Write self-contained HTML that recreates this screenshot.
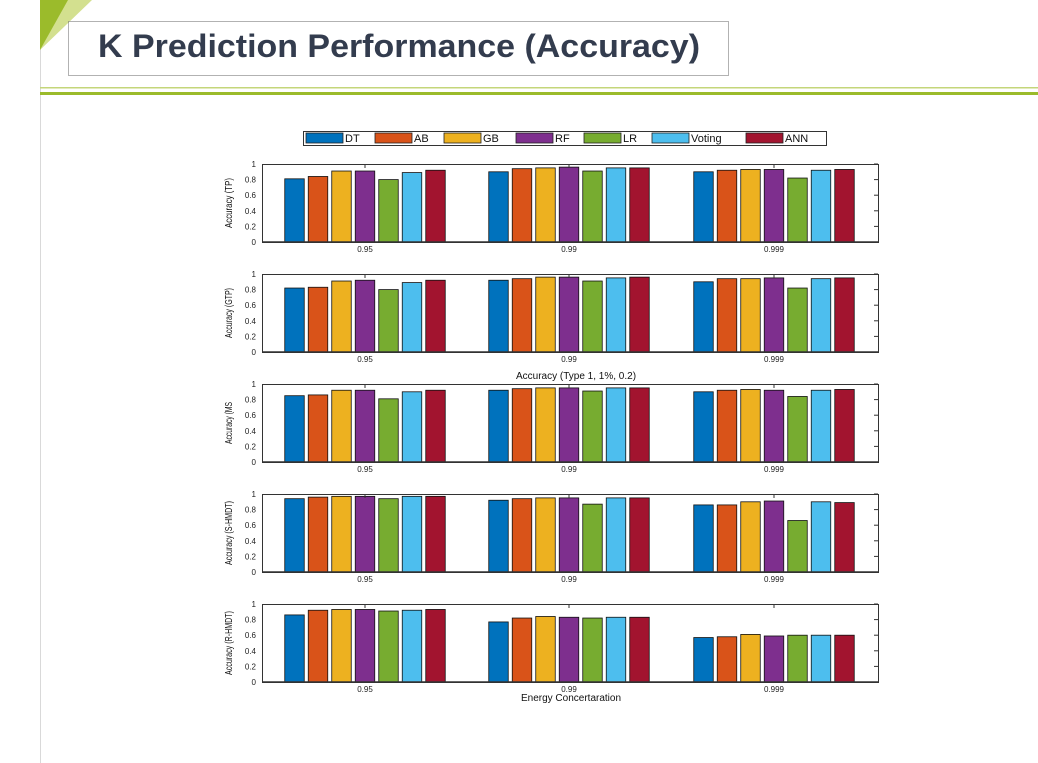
<!DOCTYPE html>
<html><head><meta charset="utf-8"><style>
html,body{margin:0;padding:0;background:#fff;width:1038px;height:763px;overflow:hidden;font-family:"Liberation Sans",sans-serif}
</style></head><body>
<svg id="s" width="1038" height="763" xmlns="http://www.w3.org/2000/svg">
<line x1="40.5" y1="0" x2="40.5" y2="763" stroke="#d9d9d9" stroke-width="1"/>
<polygon points="40,0 92,0 40,50" fill="#d3e08f"/>
<polygon points="40,0 68,0 40,50" fill="#9bbb2b"/>
<rect x="68.5" y="21.5" width="660" height="54" fill="none" stroke="#666" stroke-dasharray="1,1"/>
<text x="98" y="57" font-size="32" font-weight="bold" fill="#333c4e" textLength="602" lengthAdjust="spacingAndGlyphs">K Prediction Performance (Accuracy)</text>
<rect x="40" y="87" width="998" height="1.5" fill="#c4d67a"/>
<rect x="40" y="92" width="998" height="3" fill="#9bbb2b"/>
<g id="chart"></g>
</svg>
<script>
const names=["DT","AB","GB","RF","LR","Voting","ANN"];
const colors=["#0072bd","#d95319","#edb120","#7e2f8e","#77ac30","#4dbeee","#a2142f"];
const categories=["0.95","0.99","0.999"];
const ylabels=["Accuracy (TP)","Accuracy (GTP)","Accuracy (MS","Accuracy (S-HMDT)","Accuracy (R-HMDT)"];
const yticks=[0,0.2,0.4,0.6,0.8,1];
const tp=[[.81,.84,.91,.91,.80,.89,.92],[.90,.94,.95,.96,.91,.95,.95],[.90,.92,.93,.93,.82,.92,.93]];
const gtp=[[.82,.83,.91,.92,.80,.89,.92],[.92,.94,.96,.96,.91,.95,.96],[.90,.94,.94,.95,.82,.94,.95]];
const ms=[[.85,.86,.92,.92,.81,.90,.92],[.92,.94,.95,.95,.91,.95,.95],[.90,.92,.93,.92,.84,.92,.93]];
const shmdt=[[.94,.96,.97,.97,.94,.97,.97],[.92,.94,.95,.95,.87,.95,.95],[.86,.86,.90,.91,.66,.90,.89]];
const rhmdt=[[.86,.92,.93,.93,.91,.92,.93],[.77,.82,.84,.83,.82,.83,.83],[.57,.58,.61,.59,.60,.60,.60]];
const panels=[tp,gtp,ms,shmdt,rhmdt];
const NS="http://www.w3.org/2000/svg";
const g=document.getElementById("chart");
function mk(t,a,p){const e=document.createElementNS(NS,t);for(const k in a)e.setAttribute(k,a[k]);(p||g).appendChild(e);return e;}
const axL=262,axR=878,top0=164,ph=78,pgap=110;
const grpC=[365,569,774],step=23.5,bw=19.5;
const lg=mk("rect",{x:303.5,y:131.5,width:523,height:14,fill:"#fff",stroke:"#333"});


const lxs=[306,375,444,516,584,652,746];
names.forEach((n,i)=>{
 const lx=lxs[i];
 const r=mk("rect",{x:lx,y:133,width:37,height:10,fill:colors[i],stroke:"#222","stroke-width":0.8});
 
 
 const t=mk("text",{x:lx+39,y:142,"font-size":11,fill:"#111"});t.textContent=n;
 
 
});
panels.forEach((data,p)=>{
 const y1=top0+p*pgap,y0=y1+ph;
 const ys=v=>y0-v*ph;
 const box=mk("rect",{x:axL+.5,y:y1+.5,width:axR-axL,height:ph,fill:"none",stroke:"#333","stroke-width":1});
 
 
 yticks.forEach(v=>{
  const t=mk("text",{x:axL-6,y:ys(v)+3,"font-size":8,"text-anchor":"end",fill:"#222"});t.textContent=String(v);
  
  
  mk("line",{x1:axR-4,x2:axR,y1:ys(v),y2:ys(v),stroke:"#333"});
 });
 data.forEach((grp,c)=>{
  grp.forEach((v,i)=>{
   const x=grpC[c]+(i-3)*step-bw/2;
   const b=mk("rect",{x:x,y:ys(v),width:bw,height:v*ph,fill:colors[i],stroke:"#111","stroke-width":0.8});
   
   
  });
  mk("line",{x1:grpC[c],x2:grpC[c],y1:y1,y2:y1+4,stroke:"#333"});
  const t=mk("text",{x:grpC[c],y:y0+10,"font-size":8,"text-anchor":"middle",fill:"#222"});t.textContent=categories[c];
  
  
 });
 mk("line",{x1:axL,x2:axR,y1:y0,y2:y0,stroke:"#333","stroke-width":1.5});
 const len=[50,50,42,64,64][p];
 const yl=mk("text",{x:0,y:0,"font-size":10,"text-anchor":"middle",fill:"#111",transform:`translate(${axL-30},${(y1+y0)/2}) rotate(-90)`,textLength:len,lengthAdjust:"spacingAndGlyphs"});
 yl.textContent=ylabels[p];
 
 
});
const mid=mk("text",{x:576,y:379,"font-size":10,"text-anchor":"middle",fill:"#111"});mid.textContent="Accuracy (Type 1, 1%, 0.2)";


const xt=mk("text",{x:571,y:701,"font-size":10,"text-anchor":"middle",fill:"#111"});xt.textContent="Energy Concertaration";


</script>
</body></html>
